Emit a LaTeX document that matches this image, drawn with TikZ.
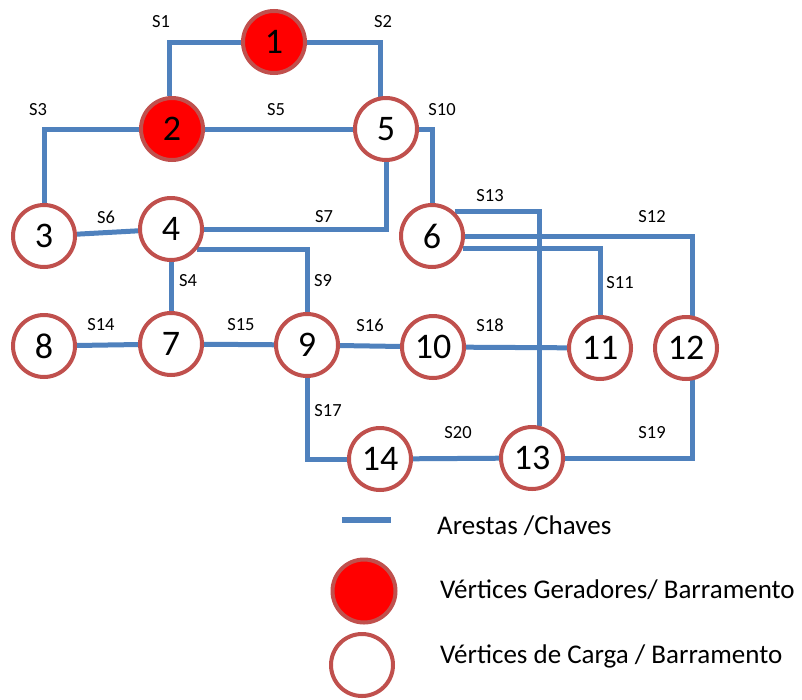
\documentclass[tikz,border=0pt]{standalone}
\usepackage{fontspec}
\setmainfont{Carlito}
\usetikzlibrary{backgrounds}
\definecolor{edgeblue}{HTML}{4F81BD}
\definecolor{ringred}{HTML}{C0504D}
\definecolor{genred}{HTML}{FF0000}
\tikzset{
 vert/.style={circle, draw=ringred, line width=4pt, minimum size=62pt, inner sep=0pt, fill=white, font=\fontsize{36}{36}\selectfont},
 gen/.style={vert, fill=genred},
 edge/.style={draw=edgeblue, line width=5pt},
 slab/.style={inner sep=0pt, font=\fontsize{18.5}{18.5}\selectfont},
 legtext/.style={inner sep=0pt, anchor=base west, font=\fontsize{27}{27}\selectfont},
}
\begin{document}
\begin{tikzpicture}[x=1pt,y=-1pt]
\useasboundingbox (0,0) rectangle (802,699);
\node[gen] (n1) at (274,42) {1};
\node[gen] (n2) at (172,129) {2};
\node[vert] (n5) at (386,129) {5};
\node[vert] (n3) at (44,236) {3};
\node[vert] (n4) at (171,229) {4};
\node[vert] (n6) at (432,236) {6};
\node[vert] (n7) at (171,344) {7};
\node[vert] (n8) at (44,346) {8};
\node[vert] (n9) at (307,345) {9};
\node[vert] (n10) at (433,347) {10};
\node[vert] (n11) at (600,348) {11};
\node[vert] (n12) at (686,348) {12};
\node[vert] (n13) at (532,458) {13};
\node[vert] (n14) at (380,459) {14};
\begin{scope}[on background layer]
\draw[edge] (n1.west) -| (n2.95);
\draw[edge] (n1.east) -| (n5.100);
\draw[edge] (n2.west) -| (n3.north);
\draw[edge] (n2.east) -- (n5.west);
\draw[edge] (n5.east) -| (n6.north);
\draw[edge] (n4.east) -| (n5.south);
\draw[edge] (n3) -- (n4);
\draw[edge] (n4.-38) -| (n9.north);
\draw[edge] (n4) -- (n7);
\draw[edge] (n8) -- (n7);
\draw[edge] (n7) -- (n9);
\draw[edge] (n9) -- (n10);
\draw[edge] (n10) -- (n11);
\draw[edge] (n9.south) |- (n14.west);
\draw[edge] (n14) -- (n13);
\draw[edge] (n13.east) -| (n12.-78);
\draw[edge] (n6.east) -| (n12.78);
\draw[edge] (n6.-22) -| (n11.north);
\draw[edge] (n6.47) -| (n13.76);
\end{scope}
\node[slab] (s1) at (161,22) {S1};
\node[slab] (s2) at (383,22) {S2};
\node[slab] (s3) at (38,110) {S3};
\node[slab] (s5) at (276,110) {S5};
\node[slab] (s10) at (442,110) {S10};
\node[slab] (s6) at (106,217) {S6};
\node[slab] (s7) at (324,217) {S7};
\node[slab] (s13) at (490,196) {S13};
\node[slab] (s12) at (652,217) {S12};
\node[slab] (s11) at (620,283) {S11};
\node[slab] (s4) at (188,281) {S4};
\node[slab] (s9) at (323,281) {S9};
\node[slab] (s14) at (101,325) {S14};
\node[slab] (s15) at (241,325) {S15};
\node[slab] (s16) at (370,325) {S16};
\node[slab] (s18) at (490,325) {S18};
\node[slab] (s17) at (328,411) {S17};
\node[slab] (s20) at (458,433) {S20};
\node[slab] (s19) at (652,433) {S19};
\coordinate (legA) at (342,520);
\coordinate (legB) at (391,520);
\draw[edge, line width=6pt] (legA) -- (legB);
\node[gen, minimum size=63pt] (lgen) at (364,591) {};
\node[vert] (lload) at (362,665) {};
\node[legtext] (t1) at (437,534) {Arestas /Chaves};
\node[legtext] (t2) at (440,598) {Vértices Geradores/ Barramento};
\node[legtext] (t3) at (440,663) {Vértices de Carga / Barramento};
\end{tikzpicture}
\end{document}
